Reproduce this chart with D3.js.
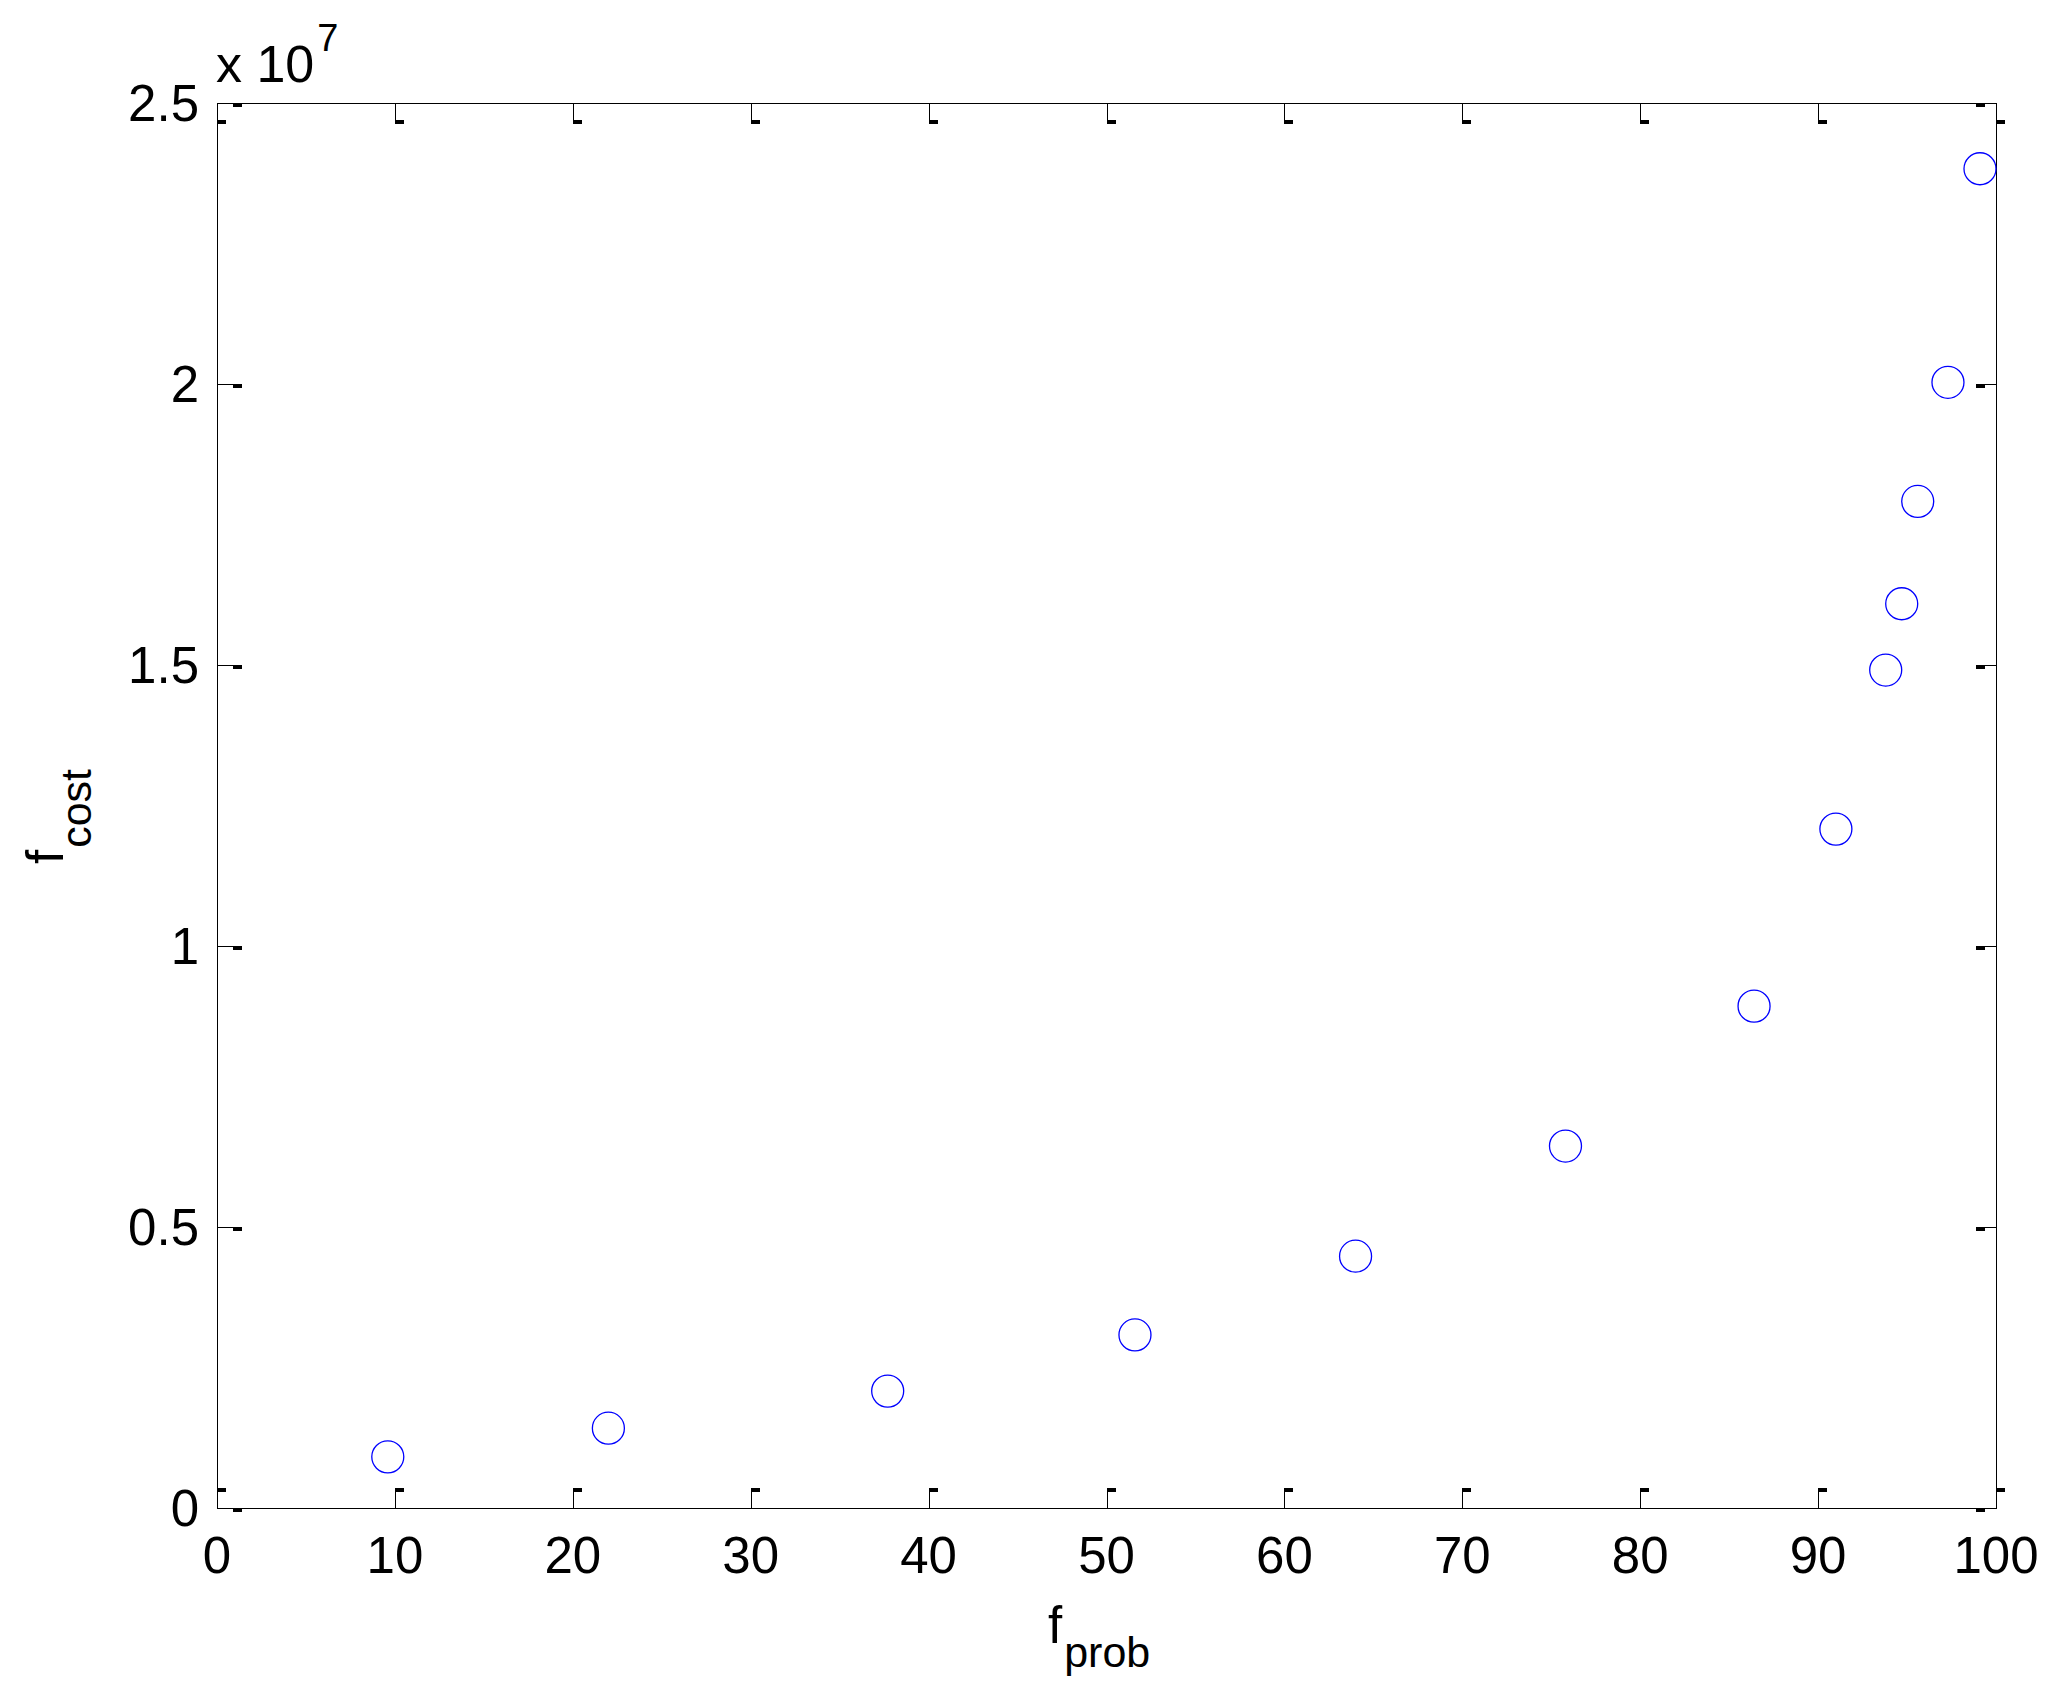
<!DOCTYPE html>
<html>
<head>
<meta charset="utf-8">
<script src="https://cdn.jsdelivr.net/npm/d3@7"></script>
<style>
  body { margin: 0; background: #fff; }
  svg { display: block; }
  text { font-family: "Liberation Sans", Arial, sans-serif; fill: #000; }
</style>
</head>
<body>
<svg id="chart" width="2055" height="1700"></svg>
<script>
// values (y in units of 1e7)
var fProb = [9.6, 22.0, 37.7, 51.6, 64.0, 75.8, 86.4, 91.0, 93.8, 94.7, 95.6, 97.3, 99.1];
var fCost = [0.091, 0.142, 0.208, 0.308, 0.448, 0.644, 0.893, 1.208, 1.491, 1.609, 1.791, 2.003, 2.383];

var xTicks = [0, 10, 20, 30, 40, 50, 60, 70, 80, 90, 100];
var yTicks = [0, 0.5, 1, 1.5, 2, 2.5];
var yTickLabels = ["0", "0.5", "1", "1.5", "2", "2.5"];

var svg = d3.select("#chart");

// plot box (window.top is reserved, so don't call it "top")
var pLeft = 217, pTop = 103, pRight = 1996, pBottom = 1508;

var x = d3.scaleLinear().domain([0, 100]).range([pLeft, pRight]);
var y = d3.scaleLinear().domain([0, 2.5]).range([pBottom, pTop]);

var tickLen = 20;

// frame
svg.append("rect")
    .attr("x", pLeft + 0.5).attr("y", pTop + 0.5)
    .attr("width", pRight - pLeft).attr("height", pBottom - pTop)
    .attr("fill", "none").attr("stroke", "#000").attr("stroke-width", 1)
    .attr("shape-rendering", "crispEdges");

var ticks = svg.append("g").attr("shape-rendering", "crispEdges");

// x ticks, bottom and top (line plus the little blob at the inner end)
xTicks.forEach(function(d) {
    var px = Math.round(x(d));
    ticks.append("line")
        .attr("x1", px + 0.5).attr("x2", px + 0.5)
        .attr("y1", pBottom).attr("y2", pBottom - tickLen)
        .attr("stroke", "#000");
    ticks.append("rect")
        .attr("x", px).attr("y", pBottom - tickLen)
        .attr("width", 9).attr("height", 4).attr("fill", "#000");
    ticks.append("line")
        .attr("x1", px + 0.5).attr("x2", px + 0.5)
        .attr("y1", pTop).attr("y2", pTop + tickLen)
        .attr("stroke", "#000");
    ticks.append("rect")
        .attr("x", px).attr("y", pTop + tickLen - 3)
        .attr("width", 9).attr("height", 4).attr("fill", "#000");
});

// y ticks, left and right
yTicks.forEach(function(d) {
    var py = Math.round(y(d));
    ticks.append("line")
        .attr("x1", pLeft).attr("x2", pLeft + tickLen)
        .attr("y1", py + 0.5).attr("y2", py + 0.5)
        .attr("stroke", "#000");
    ticks.append("rect")
        .attr("x", pLeft + tickLen - 4).attr("y", py)
        .attr("width", 9).attr("height", 4).attr("fill", "#000");
    ticks.append("line")
        .attr("x1", pRight - tickLen).attr("x2", pRight)
        .attr("y1", py + 0.5).attr("y2", py + 0.5)
        .attr("stroke", "#000");
    ticks.append("rect")
        .attr("x", pRight - tickLen).attr("y", py)
        .attr("width", 9).attr("height", 4).attr("fill", "#000");
});

// tick labels
svg.append("g").selectAll("text")
    .data(xTicks)
    .join("text")
    .attr("x", function(d) { return x(d); })
    .attr("y", 1573)
    .attr("text-anchor", "middle")
    .attr("font-size", 51)
    .text(function(d) { return d; });

svg.append("g").selectAll("text")
    .data(yTicks)
    .join("text")
    .attr("x", 199)
    .attr("y", function(d) { return y(d) + 18; })
    .attr("text-anchor", "end")
    .attr("font-size", 51)
    .text(function(d, i) { return yTickLabels[i]; });

// exponent
var ex = svg.append("text").attr("x", 216).attr("y", 82).attr("font-size", 52);
ex.append("tspan").text("x 10");
ex.append("tspan").attr("font-size", 38).attr("dy", -31).attr("dx", 3).text("7");

// axis labels
var xl = svg.append("text").attr("x", 1048).attr("y", 1643).attr("font-size", 51);
xl.append("tspan").text("f");
xl.append("tspan").attr("font-size", 43).attr("dy", 24).attr("dx", 2).text("prob");

var yl = svg.append("text")
    .attr("transform", "translate(63,864) rotate(-90)")
    .attr("font-size", 51);
yl.append("tspan").text("f");
yl.append("tspan").attr("font-size", 43).attr("dy", 28).attr("dx", 2).text("cost");

// markers
svg.append("g").selectAll("circle")
    .data(fProb)
    .join("circle")
    .attr("cx", function(d) { return x(d); })
    .attr("cy", function(d, i) { return y(fCost[i]); })
    .attr("r", 16)
    .attr("fill", "none")
    .attr("stroke", "#0000ff")
    .attr("stroke-width", 1.3);
</script>
</body>
</html>
